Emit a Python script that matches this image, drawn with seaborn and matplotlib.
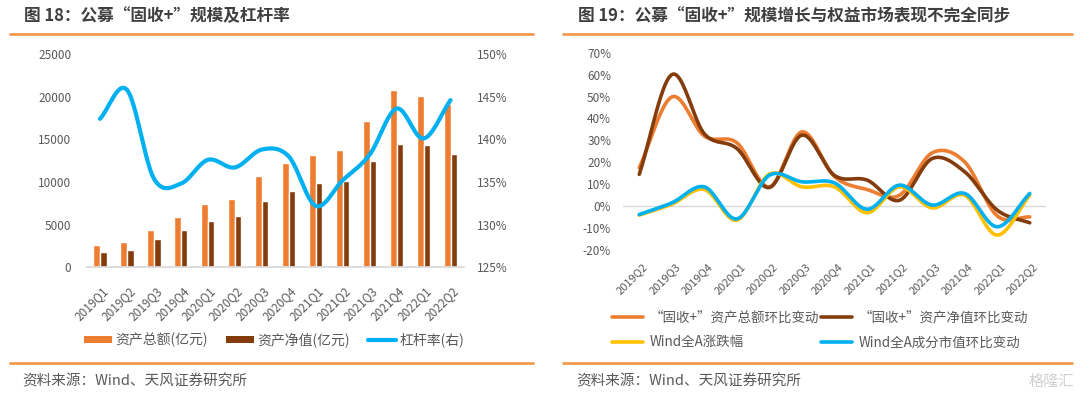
import numpy as np
import pandas as pd
import matplotlib
matplotlib.use("Agg")
import matplotlib.pyplot as plt
import seaborn as sns
from matplotlib.patches import Patch
from matplotlib.lines import Line2D
from matplotlib.transforms import ScaledTranslation

# ---------------- data ----------------
quarters_left = ["2019Q1", "2019Q2", "2019Q3", "2019Q4", "2020Q1", "2020Q2", "2020Q3",
                 "2020Q4", "2021Q1", "2021Q2", "2021Q3", "2021Q4", "2022Q1", "2022Q2"]
total_assets = [2580, 2960, 4370, 5860, 7420, 8000, 10700, 12220, 13120, 13710, 17110, 20780, 20080, 19140]
net_assets = [1790, 2070, 3280, 4330, 5420, 5970, 7770, 8900, 9840, 10150, 12420, 14490, 14330, 13240]
leverage = [142.4, 145.8, 135.4, 134.8, 137.6, 136.7, 138.8, 138.0, 132.2, 135.2, 138.2, 143.6, 140.1, 144.6]

quarters_right = ["2019Q2", "2019Q3", "2019Q4", "2020Q1", "2020Q2", "2020Q3", "2020Q4",
                  "2021Q1", "2021Q2", "2021Q3", "2021Q4", "2022Q1", "2022Q2"]
total_qoq = [17.5, 49.8, 32.0, 28.9, 8.8, 33.9, 13.5, 7.6, 5.0, 24.3, 20.2, -4.4, -4.9]
net_qoq = [14.5, 60.0, 33.0, 26.3, 8.5, 32.4, 14.0, 11.9, 2.7, 21.7, 15.7, -1.8, -7.6]
wind_a_chg = [-4.1, 0.9, 7.6, -6.4, 14.6, 8.8, 8.8, -3.0, 8.8, -0.8, 5.0, -13.2, 5.0]
wind_a_mv = [-3.8, 1.5, 8.8, -5.8, 14.1, 11.1, 10.6, -1.4, 9.6, 0.5, 5.8, -9.4, 5.8]

title_left = "图 18：公募“固收+”规模及杠杆率"
title_right = "图 19：公募“固收+”规模增长与权益市场表现不完全同步"
source_text = "资料来源：Wind、天风证券研究所"
lbl_total = "资产总额(亿元)"
lbl_net = "资产净值(亿元)"
lbl_lev = "杠杆率(右)"
lbl_r1 = "“固收+”资产总额环比变动"
lbl_r2 = "“固收+”资产净值环比变动"
lbl_r3 = "Wind全A涨跌幅"
lbl_r4 = "Wind全A成分市值环比变动"

# ---------------- style ----------------
sns.set_theme(style="white")
plt.rcParams["font.family"] = ["Noto Sans CJK SC", "DejaVu Sans"]
plt.rcParams["axes.unicode_minus"] = False

C_ORANGE = "#ED7D31"
C_BROWN = "#843C0C"
C_BLUE = "#00B0F0"
C_YELLOW = "#FFC000"
C_RULE = "#F39A52"
C_TICK = "#595959"
C_TITLE = "#3F3F3F"
C_AXIS = "#D9D9D9"

W, H = 1080, 398
fig = plt.figure(figsize=(W / 100, H / 100), dpi=100)


def smooth(vals, n=24):
    """Catmull-Rom style smoothing for drawing (like Excel smoothed lines)."""
    p = np.asarray(vals, dtype=float)
    k = len(p)
    m = np.zeros(k)
    m[1:-1] = (p[2:] - p[:-2]) / 2.0
    m[0] = (p[1] - p[0])
    m[-1] = (p[-1] - p[-2])
    xs, ys = [], []
    for i in range(k - 1):
        t = np.linspace(0, 1, n, endpoint=(i == k - 2))
        h00 = 2 * t**3 - 3 * t**2 + 1
        h10 = t**3 - 2 * t**2 + t
        h01 = -2 * t**3 + 3 * t**2
        h11 = t**3 - t**2
        ys.append(h00 * p[i] + h10 * m[i] + h01 * p[i + 1] + h11 * m[i + 1])
        xs.append(i + t)
    return np.concatenate(xs), np.concatenate(ys)


def px_ax(x0, y_top, x1, y_bot):
    return [x0 / W, 1 - y_bot / H, (x1 - x0) / W, (y_bot - y_top) / H]


def offset_xlabels(ax, dx, dy):
    for lbl in ax.get_xticklabels():
        lbl.set_rotation(45)
        lbl.set_ha("right")
        lbl.set_va("center")
        lbl.set_rotation_mode("anchor")
        lbl.set_transform(lbl.get_transform() + ScaledTranslation(dx / 100, -dy / 100, fig.dpi_scale_trans))


# ---------------- left chart ----------------
axL = fig.add_axes(px_ax(86.5, 54, 464, 267.3))
df = pd.DataFrame({
    "quarter": quarters_left * 2,
    "value": total_assets + net_assets,
    "series": [lbl_total] * len(quarters_left) + [lbl_net] * len(quarters_left),
})
sns.barplot(data=df, x="quarter", y="value", hue="series", palette=[C_ORANGE, C_BROWN],
            width=0.49, gap=0, ax=axL, legend=False, saturation=1)
axL.set_xlim(-0.5, len(quarters_left) - 0.5)
axL.set_ylim(0, 25000)
axL.set_yticks(np.arange(0, 25001, 5000))
axL.set_xlabel("")
axL.set_ylabel("")
for s in ["top", "left", "right"]:
    axL.spines[s].set_visible(False)
axL.spines["bottom"].set_color(C_AXIS)
axL.tick_params(axis="y", length=0, pad=11, labelsize=8.5, labelcolor=C_TICK)
axL.tick_params(axis="x", length=0, pad=0, labelsize=8.5, labelcolor=C_TICK)
offset_xlabels(axL, 6, 22)

axL2 = axL.twinx()
xs, ys = smooth(leverage)
axL2.plot(xs, ys, color=C_BLUE, lw=3, solid_capstyle="round")
axL2.set_ylim(125, 150)
axL2.set_yticks(np.arange(125, 150.1, 5))
axL2.set_yticklabels([f"{int(v)}%" for v in np.arange(125, 150.1, 5)])
axL2.set_xlim(-0.5, len(quarters_left) - 0.5)
for s in ["top", "left", "right", "bottom"]:
    axL2.spines[s].set_visible(False)
axL2.tick_params(axis="y", length=0, pad=9.5, labelsize=8.5, labelcolor=C_TICK)
axL2.grid(False)
axL.grid(False)

hL = [Patch(facecolor=C_ORANGE, edgecolor="none"),
      Patch(facecolor=C_BROWN, edgecolor="none"),
      Line2D([0], [0], color=C_BLUE, lw=3)]
fig.legend(hL, [lbl_total, lbl_net, lbl_lev], loc="center",
           bbox_to_anchor=(274 / W, 1 - 340 / H), ncol=3, frameon=False,
           fontsize=10, handlelength=2.0, handleheight=0.4, handletextpad=0.25,
           columnspacing=1.3, borderpad=0, labelcolor=C_TICK)

# ---------------- right chart ----------------
axR = fig.add_axes(px_ax(623, 52.7, 1046, 250))
xr = np.arange(len(quarters_right))
series_r = [(total_qoq, C_ORANGE), (net_qoq, C_BROWN), (wind_a_chg, C_YELLOW), (wind_a_mv, C_BLUE)]
axR.axhline(0, color=C_AXIS, lw=1, zorder=1)
for vals, col in series_r:
    sx, sy = smooth(vals)
    sns.lineplot(x=sx, y=sy, color=col, lw=2.6, ax=axR, sort=False, estimator=None, zorder=3)
axR.set_xlim(-0.5, len(quarters_right) - 0.5)
axR.set_ylim(-20, 70)
axR.set_yticks(np.arange(-20, 70.1, 10))
axR.set_yticklabels([f"{int(v)}%" for v in np.arange(-20, 70.1, 10)])
axR.set_xticks(xr)
axR.set_xticklabels(quarters_right)
for s in ["top", "left", "right", "bottom"]:
    axR.spines[s].set_visible(False)
axR.tick_params(axis="y", length=0, pad=8.5, labelsize=8.5, labelcolor=C_TICK)
axR.tick_params(axis="x", length=0, pad=0, labelsize=8, labelcolor=C_TICK)
axR.grid(False)
offset_xlabels(axR, 6.4, 14.5)

hR = [Line2D([0], [0], color=C_ORANGE, lw=2.6),
      Line2D([0], [0], color=C_YELLOW, lw=2.6),
      Line2D([0], [0], color=C_BROWN, lw=2.6),
      Line2D([0], [0], color=C_BLUE, lw=2.6)]
fig.legend(hR, [lbl_r1, lbl_r3, lbl_r2, lbl_r4], loc="center",
           bbox_to_anchor=(820 / W, 1 - 330 / H), ncol=2, frameon=False,
           fontsize=9.7, handlelength=2.3, handletextpad=0.5, columnspacing=0.1,
           labelspacing=0.78, borderpad=0, labelcolor=C_TICK)

# ---------------- titles, rules, sources ----------------
fig.text(24 / W, 1 - 16 / H, title_left, fontsize=12, fontweight="bold", color=C_TITLE, va="center", ha="left")
fig.text(578 / W, 1 - 16 / H, title_right, fontsize=12, fontweight="bold", color=C_TITLE, va="center", ha="left")
for x0, x1 in [(10, 533), (563, 1072)]:
    fig.add_artist(Line2D([x0 / W, x1 / W], [1 - 33.5 / H] * 2, color=C_RULE, lw=2))
    fig.add_artist(Line2D([x0 / W, x1 / W], [1 - 363.3 / H] * 2, color=C_RULE, lw=2))
fig.text(22 / W, 1 - 381 / H, source_text, fontsize=10.5, color=C_TICK, va="center", ha="left")
fig.text(576 / W, 1 - 381 / H, source_text, fontsize=10.5, color=C_TICK, va="center", ha="left")
fig.text(1074 / W, 1 - 381 / H, "格隆汇", fontsize=11, color="#D0D0D0", va="center", ha="right")

fig.savefig("out.png", dpi=100)
